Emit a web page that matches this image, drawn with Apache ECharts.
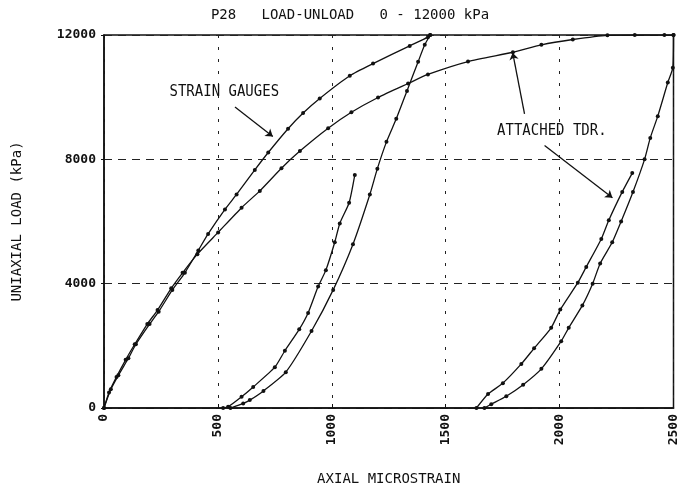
<!DOCTYPE html>
<html>
<head>
<meta charset="utf-8">
<script src="https://cdn.jsdelivr.net/npm/echarts@6/dist/echarts.min.js"></script>
<style>
  html, body { margin: 0; padding: 0; background: #fff; }
  #chart { width: 680px; height: 491px; }
</style>
</head>
<body>
<div id="chart"></div>
<script>
// Axis ticks
const xTicks = [0, 500, 1000, 1500, 2000, 2500];
const yTicks = [0, 4000, 8000, 12000];

// Strain gauges: first loading 0 -> 12000 kPa, unloading, then reload to 7500 kPa
const gaugeLoad = [[0,0],[30,600],[63,1050],[107,1600],[140,2050],[200,2700],[240,3100],[300,3800],[355,4350],[414,5070],[457,5600],[531,6390],[582,6870],[662,7660],[721,8220],[808,8985],[874,9490],[947,9960],[1079,10690],[1181,11080],[1342,11650],[1422,11930],[1432,12000]];
const gaugeUnload = [[1432,12000],[1408,11684],[1379,11140],[1330,10200],[1283,9303],[1240,8562],[1200,7700],[1167,6868],[1093,5270],[1006,3800],[911,2477],[798,1154],[700,550],[640,254],[611,148],[555,0]];
const gaugeReload = [[523,0],[545,40],[604,360],[655,676],[750,1313],[794,1842],[857,2530],[896,3058],[940,3905],[974,4435],[1013,5334],[1035,5937],[1076,6604],[1101,7500]];

// Attached TDR: same cycle
const tdrLoad = [[0,0],[22,500],[55,1000],[95,1550],[135,2050],[190,2700],[235,3150],[295,3850],[345,4350],[410,4950],[501,5650],[604,6445],[684,6985],[779,7715],[860,8265],[984,9000],[1086,9514],[1203,9990],[1335,10440],[1422,10731],[1598,11145],[1795,11445],[1920,11684],[2058,11855],[2210,11990],[2330,12000],[2460,12000],[2500,12000]];
const tdrUnload = [[2500,12000],[2497,10950],[2475,10470],[2431,9390],[2398,8690],[2373,8000],[2322,6950],[2270,6000],[2231,5330],[2178,4650],[2145,4000],[2100,3300],[2040,2580],[2007,2150],[1920,1260],[1840,750],[1766,380],[1700,120],[1670,0]];
const tdrReload = [[1635,0],[1686,450],[1751,800],[1832,1418],[1888,1920],[1963,2581],[2003,3165],[2080,4032],[2117,4540],[2183,5439],[2216,6042],[2275,6953],[2319,7557]];

// Callout labels and their pointer lines, in data units
const notes = [
  { text: 'STRAIN GAUGES', at: [528, 10160] },
  { text: 'ATTACHED TDR.', at: [1966, 8922] }
];
const pointers = [
  [[575, 9684], [741, 8731]],
  [[1846, 9462], [1794, 11430]],
  [[1934, 8446], [2232, 6763]]
];

const FONT = '"DejaVu Sans Mono", "Liberation Mono", monospace';
const INK = '#111';

const chart = echarts.init(document.getElementById('chart'), null, { renderer: 'canvas' });

function curve(name, data) {
  return {
    name, type: 'line', data,
    smooth: 0.2,
    symbol: 'circle', symbolSize: 4,
    showSymbol: true,
    lineStyle: { color: INK, width: 1.3 },
    itemStyle: { color: INK },
    animation: false,
    z: 3
  };
}

const pointerSeries = {
  type: 'line', data: [], silent: true, animation: false,
  markLine: {
    silent: true, animation: false,
    symbol: ['none', 'arrow'], symbolSize: 7,
    lineStyle: { color: INK, width: 1.3, type: 'solid' },
    itemStyle: { color: INK },
    label: { show: false },
    data: pointers.map(p => [
      { coord: p[0], symbol: 'none' },
      { coord: p[1], symbol: 'arrow', symbolSize: 7 }
    ])
  }
};

const plain = v => String(v);

chart.setOption({
  backgroundColor: '#fff',
  animation: false,
  title: {
    text: 'P28   LOAD-UNLOAD   0 - 12000 kPa',
    left: 345, textAlign: 'center', top: 3,
    textStyle: { fontFamily: FONT, fontSize: 14, fontWeight: 'normal', color: INK }
  },
  grid: {
    left: 104, right: 6, top: 35, bottom: 78,
    show: true, borderColor: INK, borderWidth: 1.5, backgroundColor: 'transparent'
  },
  xAxis: {
    type: 'value', min: xTicks[0], max: xTicks[xTicks.length - 1], interval: 500,
    name: 'AXIAL MICROSTRAIN', nameLocation: 'middle', nameGap: 64,
    nameTextStyle: { fontFamily: FONT, fontSize: 14, color: INK },
    axisLine: { show: true, lineStyle: { color: INK, width: 1.5 } },
    axisTick: { show: true, inside: true, length: 4, lineStyle: { color: INK } },
    axisLabel: {
      rotate: 90, margin: 6, formatter: plain,
      fontFamily: FONT, fontSize: 13, fontWeight: 'bold', color: INK
    },
    splitLine: { show: true, lineStyle: { color: '#222', width: 1, type: [3, 9] } }
  },
  yAxis: {
    type: 'value', min: yTicks[0], max: yTicks[yTicks.length - 1], interval: 4000,
    name: 'UNIAXIAL LOAD (kPa)', nameLocation: 'middle', nameGap: 80, nameRotate: 90,
    nameTextStyle: { fontFamily: FONT, fontSize: 14, color: INK },
    axisLine: { show: true, lineStyle: { color: INK, width: 1.5 } },
    axisTick: { show: true, inside: false, length: 3, lineStyle: { color: INK } },
    axisLabel: {
      margin: 8, formatter: plain,
      fontFamily: FONT, fontSize: 13, fontWeight: 'bold', color: INK
    },
    splitLine: { show: true, lineStyle: { color: '#222', width: 1, type: [8, 6] } }
  },
  series: [
    curve('Strain gauges load', gaugeLoad),
    curve('Strain gauges unload', gaugeUnload),
    curve('Strain gauges reload', gaugeReload),
    curve('TDR load', tdrLoad),
    curve('TDR unload', tdrUnload),
    curve('TDR reload', tdrReload),
    pointerSeries
  ]
});

// Place the callout texts once the grid exists
chart.setOption({
  graphic: notes.map(n => {
    const p = chart.convertToPixel({ gridIndex: 0 }, n.at);
    return {
      type: 'text', x: p[0], y: p[1], silent: true,
      style: {
        text: n.text, fill: INK,
        font: '14px ' + FONT,
        align: 'center', verticalAlign: 'middle'
      },
      scaleY: 1.15
    };
  })
});
</script>
</body>
</html>
